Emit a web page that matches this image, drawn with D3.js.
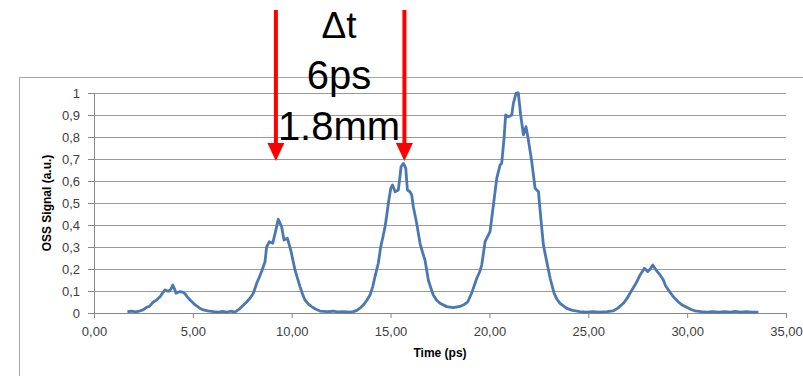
<!DOCTYPE html>
<html><head><meta charset="utf-8">
<script src="https://cdn.jsdelivr.net/npm/d3@7"></script>
<style>html,body{margin:0;padding:0;background:#fff;overflow:hidden}</style>
</head><body>
<svg id="c" width="803" height="376"></svg>
<script>
const timePs = [1.69,1.9,2.1,2.33,2.5,2.66,2.8,3.0,3.17,3.34,3.47,3.59,3.7,3.81,3.9,3.98,4.07,4.15,4.25,4.35,4.47,4.6,4.73,4.86,5.02,5.19,5.35,5.53,5.75,6.04,6.3,6.5,6.71,6.9,7.13,7.25,7.38,7.55,7.72,7.9,8.06,8.23,8.35,8.48,8.65,8.73,8.87,9.04,9.16,9.32,9.49,9.61,9.78,9.95,10.17,10.3,10.42,10.55,10.67,10.85,11.01,11.2,11.43,11.8,12.1,12.3,12.6,12.95,13.12,13.3,13.45,13.62,13.8,13.96,14.1,14.21,14.38,14.5,14.6,14.72,14.8,14.89,15.01,15.1,15.23,15.39,15.45,15.53,15.65,15.77,15.85,15.98,16.07,16.15,16.32,16.49,16.62,16.74,16.91,17.05,17.16,17.33,17.5,17.84,18.17,18.51,18.75,18.9,19.1,19.36,19.52,19.61,19.78,20.03,20.2,20.37,20.54,20.62,20.74,20.82,20.96,21.13,21.21,21.35,21.46,21.58,21.72,21.85,21.97,22.14,22.31,22.48,22.6,22.73,22.9,23.07,23.27,23.4,23.57,23.91,24.2,24.58,24.9,25.2,25.6,25.95,26.27,26.5,26.77,26.95,27.11,27.36,27.5,27.62,27.84,28.01,28.13,28.26,28.43,28.63,28.8,28.9,29.05,29.3,29.56,29.75,29.98,30.2,30.4,30.7,30.99,31.3,31.6,31.9,32.2,32.42,32.7,33.0,33.3,33.6];
const signal = [0.006,0.008,0.005,0.01,0.015,0.026,0.03,0.05,0.06,0.074,0.09,0.105,0.1,0.1,0.11,0.127,0.11,0.09,0.095,0.097,0.095,0.088,0.072,0.059,0.045,0.032,0.022,0.014,0.01,0.006,0.004,0.007,0.004,0.008,0.004,0.012,0.02,0.035,0.05,0.068,0.09,0.135,0.16,0.19,0.233,0.3,0.324,0.317,0.362,0.426,0.392,0.332,0.34,0.286,0.195,0.155,0.12,0.085,0.059,0.04,0.029,0.018,0.009,0.006,0.008,0.005,0.006,0.004,0.006,0.012,0.022,0.036,0.058,0.082,0.12,0.165,0.226,0.3,0.34,0.392,0.44,0.5,0.567,0.582,0.551,0.559,0.6,0.665,0.68,0.657,0.559,0.551,0.536,0.483,0.408,0.317,0.275,0.241,0.15,0.11,0.082,0.058,0.044,0.029,0.024,0.03,0.04,0.05,0.09,0.158,0.19,0.218,0.324,0.37,0.49,0.612,0.673,0.68,0.794,0.9,0.892,0.9,0.953,0.999,1.0,0.9,0.81,0.847,0.786,0.688,0.567,0.551,0.43,0.309,0.233,0.158,0.09,0.065,0.044,0.021,0.012,0.006,0.004,0.006,0.004,0.006,0.01,0.022,0.044,0.065,0.09,0.127,0.15,0.173,0.203,0.188,0.2,0.218,0.195,0.173,0.15,0.125,0.105,0.074,0.05,0.036,0.026,0.016,0.01,0.006,0.004,0.006,0.004,0.006,0.004,0.007,0.004,0.006,0.004,0.004];
const xTicks = [0,5,10,15,20,25,30,35];
const yTicks = [0,0.1,0.2,0.3,0.4,0.5,0.6,0.7,0.8,0.9,1];
const xTitle = "Time (ps)";
const yTitle = "OSS Signal (a.u.)";
const arrowTimes = [9.2, 15.7];
const noteLines = ["\u0394t", "6ps", "1.8mm"];

const svg = d3.select("#c");
const x = d3.scaleLinear().domain([0,35]).range([94,786]);
const y = d3.scaleLinear().domain([0,1]).range([313,93]);
const fmtX = v => d3.format(".2f")(v).replace(".", ",");
const fmtY = v => (v===0||v===1) ? String(v) : d3.format(".1f")(v).replace(".", ",");
const FONT = "'Liberation Sans', Arial, sans-serif";

svg.append("rect").attr("x",19.5).attr("y",77.5).attr("width",800).attr("height",320)
  .attr("fill","none").attr("stroke","#a6a6a6").attr("stroke-width",1);

svg.append("g").selectAll("line").data(yTicks.filter(d=>d>0)).join("line")
  .attr("x1",x(0)).attr("x2",x(35))
  .attr("y1",d=>Math.round(y(d))+0.5).attr("y2",d=>Math.round(y(d))+0.5)
  .attr("stroke","#9a9a9a").attr("stroke-width",1);

const ya = svg.append("g").attr("transform",`translate(${x(0)},0)`)
  .call(d3.axisLeft(y).tickValues(yTicks).tickFormat(fmtY).tickSize(6).tickPadding(8));
const xa = svg.append("g").attr("transform",`translate(0,${y(0)})`)
  .call(d3.axisBottom(x).tickValues(xTicks).tickFormat(fmtX).tickSize(5).tickPadding(9));
[ya,xa].forEach(g=>{
  g.select(".domain").attr("stroke","#888");
  g.selectAll(".tick line").attr("stroke","#888");
  g.selectAll("text").attr("fill","#404040").style("font-family",FONT).style("font-size","13px");
});

svg.append("text").attr("x",440).attr("y",357).attr("text-anchor","middle")
  .style("font-family",FONT).style("font-size","12px").style("font-weight","bold")
  .attr("fill","#000").text(xTitle);
svg.append("text").attr("transform","translate(51,203) rotate(-90)").attr("text-anchor","middle")
  .style("font-family",FONT).style("font-size","12px").style("font-weight","bold")
  .attr("fill","#000").text(yTitle);

const pts = timePs.map((t,i)=>[t,signal[i]]);
svg.append("path").datum(pts)
  .attr("d", d3.line().x(d=>x(d[0])).y(d=>y(d[1])))
  .attr("fill","none").attr("stroke","#4a78b2").attr("stroke-width",2.8).attr("stroke-linejoin","round");

const sizes = [37,40,40];
const baselines = [38,89,140];
noteLines.forEach((s,i)=>{
  svg.append("text").attr("x",339).attr("y",baselines[i]).attr("text-anchor","middle")
    .style("font-family",FONT).style("font-size",sizes[i]+"px")
    .attr("fill","#000").text(s);
});

arrowTimes.forEach(t=>{
  const ax = x(t);
  svg.append("line").attr("x1",ax).attr("x2",ax).attr("y1",10).attr("y2",146)
    .attr("stroke","#ff0000").attr("stroke-width",4);
  svg.append("path").attr("d",`M${ax-8.5},143 L${ax+8.5},143 L${ax},161 Z`).attr("fill","#ff0000");
});
</script>
</body></html>
